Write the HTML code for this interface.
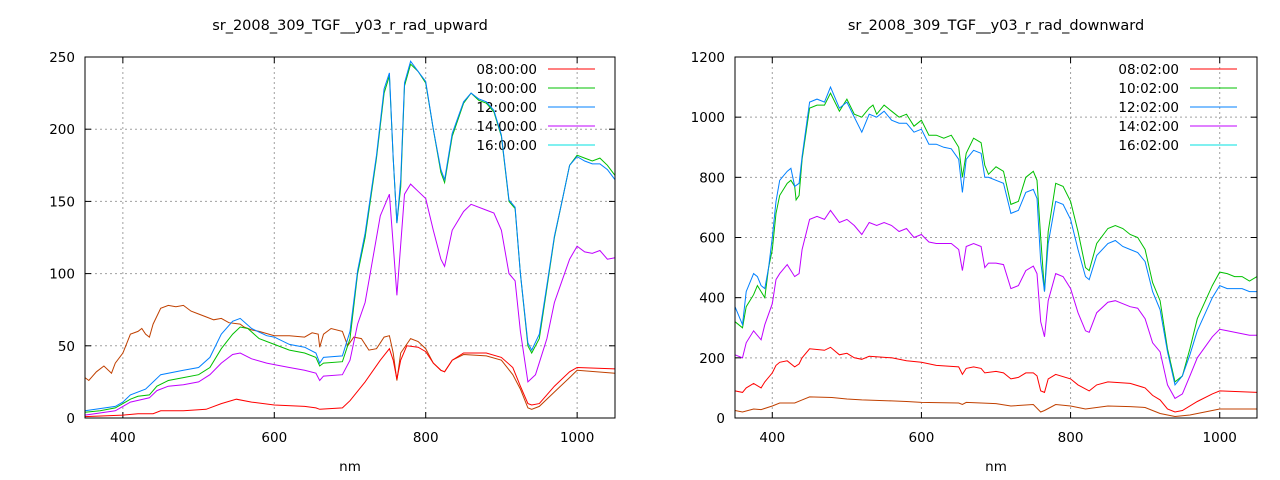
<!DOCTYPE html>
<html><head><meta charset="utf-8"><style>
body{margin:0;background:#fff;}
svg{display:block;font-family:"DejaVu Sans","Liberation Sans",sans-serif;font-size:13.5px;}
</style></head><body>
<svg id="s" width="1280" height="480" xmlns="http://www.w3.org/2000/svg"></svg>
<script>
const S=document.getElementById('s');
let out='';
function chart(o){
  const {x0,x1,y0,y1,ymax,ystep,title,times,series}=o;
  const X=v=>x0+(v-350)/700*(x1-x0), Y=v=>y1-(v/ymax)*(y1-y0);
  out+=`<text x="${(x0+x1)/2}" y="30" text-anchor="middle" font-size="14.5">${title}</text>`;
  for(let v=400;v<=1000;v+=200){const x=X(v);
    out+=`<line x1="${x}" y1="${y0}" x2="${x}" y2="${y1}" stroke="#a0a0a0" stroke-dasharray="2,3"/>`;
    out+=`<line x1="${x}" y1="${y1}" x2="${x}" y2="${y1-6}" stroke="#000"/><line x1="${x}" y1="${y0}" x2="${x}" y2="${y0+6}" stroke="#000"/>`;
    out+=`<text x="${x}" y="${y1+24}" text-anchor="middle">${v}</text>`;}
  for(let v=0;v<=ymax;v+=ystep){const y=Y(v);
    if(v>0&&v<ymax)out+=`<line x1="${x0}" y1="${y}" x2="${x1}" y2="${y}" stroke="#a0a0a0" stroke-dasharray="2,3"/>`;
    out+=`<line x1="${x0}" y1="${y}" x2="${x0+6}" y2="${y}" stroke="#000"/><line x1="${x1}" y1="${y}" x2="${x1-6}" y2="${y}" stroke="#000"/>`;
    out+=`<text x="${x0-10}" y="${y+5}" text-anchor="end">${v}</text>`;}
  out+=`<text x="${(x0+x1)/2}" y="471" text-anchor="middle">nm</text>`;
  const cols=['#ff0000','#00c000','#0080ff','#c000ff','#00e0e0'];
  times.forEach((t,i)=>{const y=69+i*19;
    out+=`<text x="${x1-78}" y="${y+5}" text-anchor="end">${t}</text><line x1="${x1-67}" y1="${y}" x2="${x1-20}" y2="${y}" stroke="${cols[i]}"/>`;});
  series.forEach(([c,d])=>{let p='';for(let i=0;i<d.length;i+=2)p+=(i?'L':'M')+X(d[i]).toFixed(1)+','+Y(d[i+1]).toFixed(1);
    out+=`<path d="${p}" fill="none" stroke="${c}" stroke-width="1"/>`;});
  out+=`<rect x="${x0}" y="${y0}" width="${x1-x0}" height="${y1-y0}" fill="none" stroke="#000"/>`;
}
chart({x0:85,x1:615,y0:57,y1:418,ymax:250,ystep:50,title:'sr_2008_309_TGF__y03_r_rad_upward',
times:['08:00:00','10:00:00','12:00:00','14:00:00','16:00:00'],series:[
['#c04000',[350,28,355,26,365,32,375,36,385,31,390,38,400,45,410,58,420,60,425,62,430,58,435,56,440,65,450,76,460,78,470,77,480,78,490,74,500,72,510,70,520,68,530,69,540,66,555,65,560,63,570,61,580,60,600,57,620,57,640,56,650,59,658,58,660,49,665,58,675,62,690,60,697,50,705,56,715,55,725,47,735,48,745,56,752,57,757,45,762,26,767,45,780,55,790,53,800,48,810,38,820,33,825,32,835,40,850,44,880,43,900,40,915,30,925,20,935,7,940,6,950,8,970,18,990,28,1000,33,1050,31]],
['#ff0000',[350,1,400,2,420,3,440,3,450,5,480,5,510,6,530,10,550,13,570,11,600,9,640,8,655,7,660,6,690,7,700,12,720,25,740,40,752,48,757,40,762,27,767,40,775,50,790,49,800,46,810,38,820,33,825,32,835,40,850,45,880,45,900,42,915,35,925,22,935,10,940,9,950,10,970,22,990,32,1000,35,1050,34]],
['#c000ff',[350,2,390,5,400,8,410,11,435,14,445,19,460,22,480,23,500,25,515,30,530,38,545,44,555,45,570,41,590,38,600,37,620,35,640,33,655,31,660,26,665,29,690,30,700,40,710,65,720,80,730,110,740,140,752,155,757,120,762,85,767,120,772,155,780,162,790,157,800,152,810,130,820,110,825,105,835,130,850,143,860,148,880,144,890,142,900,130,910,100,918,95,925,60,935,25,945,30,960,55,970,80,980,95,990,110,1000,119,1010,115,1020,114,1030,116,1040,110,1050,111]],
['#00c000',[350,4,370,5,390,7,400,10,410,13,420,15,435,16,445,22,460,26,480,28,500,30,515,35,530,48,545,58,555,63,565,62,580,55,600,51,620,47,640,45,655,42,660,36,665,38,690,39,700,55,710,100,720,125,735,180,745,225,752,237,757,180,762,135,767,160,772,230,780,245,790,240,800,232,810,200,820,170,825,163,835,195,850,218,860,225,870,220,880,218,890,212,900,195,910,150,918,145,925,100,935,50,940,45,950,55,960,90,970,125,980,150,990,175,1000,182,1010,180,1020,178,1030,180,1040,175,1050,168]],
['#0080ff',[350,5,390,8,400,11,410,16,430,20,450,30,480,33,500,35,515,42,530,58,545,67,555,69,570,62,590,57,600,56,620,51,640,49,655,45,660,38,665,42,690,43,700,60,710,102,720,128,735,182,745,228,752,239,757,180,762,135,767,165,772,232,780,247,790,240,800,233,810,200,820,172,825,165,835,197,850,219,860,225,870,221,880,219,890,213,900,196,910,151,918,146,925,100,935,52,940,47,950,58,960,92,970,126,980,150,990,175,1000,181,1010,178,1020,176,1030,176,1040,172,1050,165]]]});
chart({x0:735,x1:1257,y0:57,y1:418,ymax:1200,ystep:200,title:'sr_2008_309_TGF__y03_r_rad_downward',
times:['08:02:00','10:02:00','12:02:00','14:02:00','16:02:00'],series:[
['#c04000',[350,25,360,20,375,30,385,28,400,40,410,50,430,50,440,60,450,70,480,68,500,63,520,60,560,57,580,55,600,52,650,50,655,45,660,52,680,50,700,48,720,40,750,45,760,20,765,25,780,45,800,40,820,30,850,40,880,38,900,35,920,15,940,5,960,10,990,25,1000,30,1050,30]],
['#ff0000',[350,90,360,85,365,100,375,115,385,100,390,120,400,150,405,175,410,185,420,190,430,170,436,180,440,200,450,230,470,225,478,235,490,210,500,215,510,200,520,195,530,205,560,200,580,190,600,185,620,175,650,170,655,145,660,165,670,170,680,165,685,150,700,155,710,150,720,130,730,135,740,150,750,150,755,140,760,90,765,85,770,130,780,145,800,130,810,110,825,90,835,110,850,120,880,115,900,100,910,75,920,60,930,30,940,20,950,25,970,55,990,80,1000,90,1050,85]],
['#c000ff',[350,210,360,200,365,250,375,290,385,260,390,310,400,380,405,460,410,480,420,510,430,470,436,480,440,560,450,660,460,670,470,660,478,690,490,650,500,660,510,640,520,610,530,650,540,640,550,650,560,640,570,620,580,630,590,600,600,610,610,585,620,580,640,580,650,560,655,490,660,570,670,580,680,570,685,500,690,515,700,515,710,510,720,430,730,440,740,490,750,505,755,480,760,320,765,270,770,390,780,480,790,470,800,430,810,350,820,290,825,285,835,350,850,385,860,390,880,370,890,365,900,330,910,250,920,220,930,110,940,65,950,80,960,140,970,200,990,270,1000,295,1010,290,1020,285,1030,280,1040,275,1050,275]],
['#00c000',[350,320,360,300,365,370,375,410,380,440,385,420,390,400,395,500,400,560,405,680,410,740,420,780,425,790,430,770,432,725,436,740,440,860,450,1030,460,1040,470,1040,478,1080,490,1020,500,1060,510,1010,520,1000,530,1030,535,1040,540,1010,550,1040,560,1020,570,1000,580,1010,590,970,600,990,610,940,620,940,630,930,640,940,650,900,655,800,660,880,670,930,680,915,685,840,690,810,700,835,710,820,720,710,730,720,740,800,750,820,755,790,760,600,765,420,770,620,780,780,790,770,800,720,810,620,820,500,825,490,835,580,850,630,860,640,870,630,880,610,890,600,900,560,910,450,920,390,930,230,940,120,950,140,960,230,970,330,990,440,1000,485,1010,480,1020,470,1030,470,1040,455,1050,470]],
['#0080ff',[350,370,360,310,365,420,375,480,380,470,385,440,390,430,395,500,400,600,405,720,410,790,420,820,425,830,430,770,436,780,440,870,450,1050,460,1060,470,1050,478,1100,490,1030,500,1050,510,1000,520,950,530,1010,540,1000,550,1020,560,990,570,980,580,980,590,950,600,960,610,910,620,910,630,900,640,895,650,860,655,750,660,860,670,890,680,880,685,800,690,800,700,790,710,780,720,680,730,690,740,750,750,760,755,730,760,520,765,420,770,580,780,720,790,710,800,660,810,560,820,470,825,460,835,540,850,580,860,590,870,570,880,560,890,550,900,520,910,420,920,360,930,220,940,110,950,140,960,210,970,290,990,400,1000,440,1010,430,1020,430,1030,430,1040,420,1050,420]]]});
S.innerHTML=out;
</script>
</body></html>
